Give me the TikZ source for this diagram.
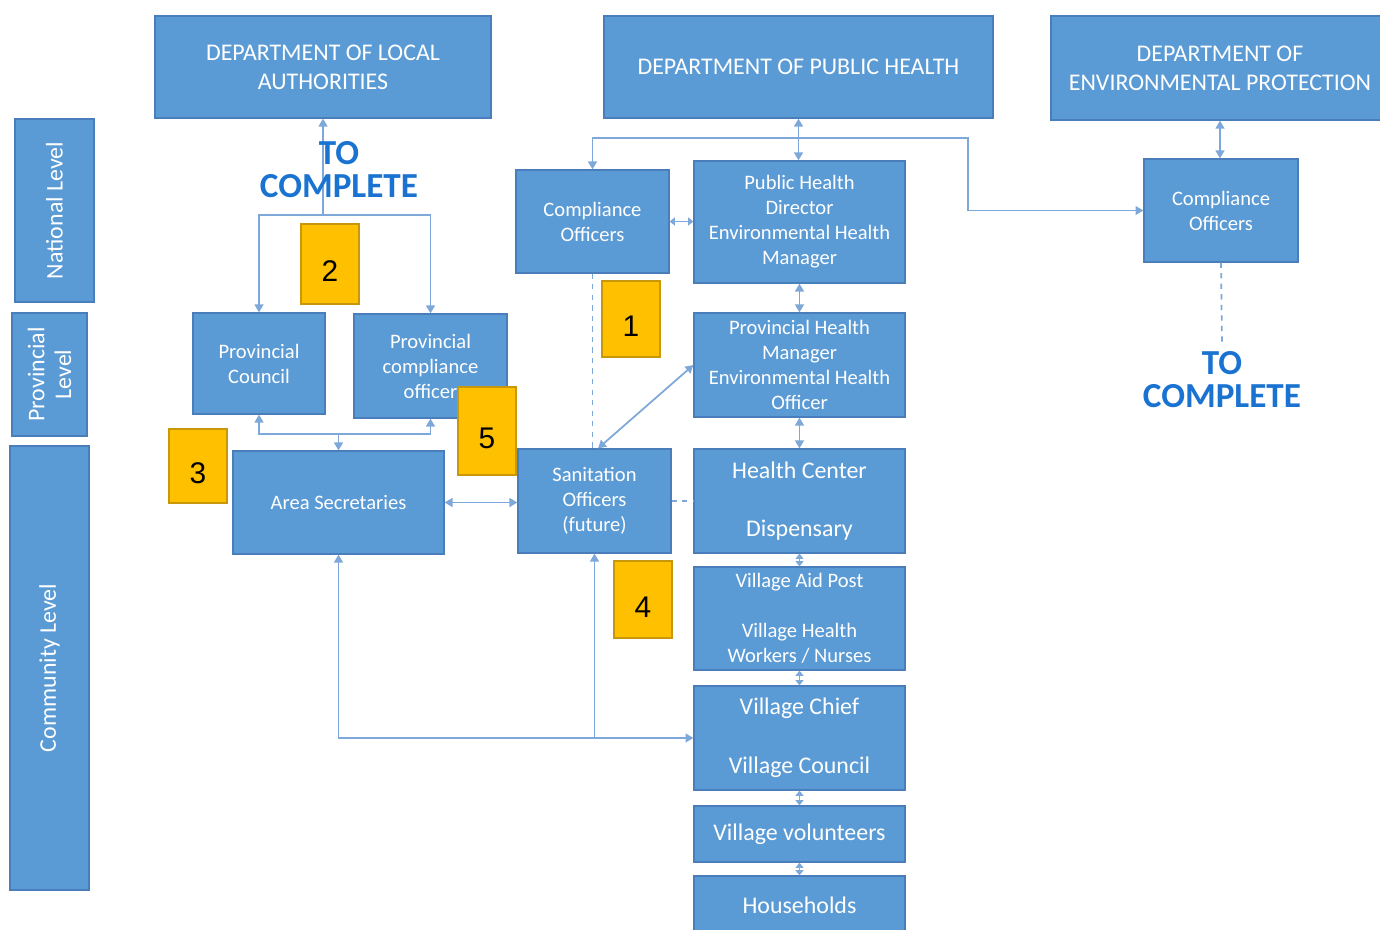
\documentclass[tikz,border=0pt]{standalone}
\usepackage{fontspec}
\setmainfont{Carlito}
\newfontfamily\numfont{Liberation Sans}
\usetikzlibrary{arrows.meta,positioning}

\definecolor{boxblue}{HTML}{5B9BD5}
\definecolor{boxedge}{HTML}{4A7EBB}
\definecolor{linkblue}{HTML}{7EA8DA}
\definecolor{tagyellow}{HTML}{FFC000}
\definecolor{tagedge}{HTML}{C9980A}
\definecolor{todoblue}{HTML}{1A73D0}

\tikzset{
  box/.style={draw=boxedge, fill=boxblue, text=white, align=center, inner sep=1pt, line width=0.7pt, font=\fontsize{11.7}{14.2}\selectfont},
  big/.style={font=\fontsize{13.6}{16.7}\selectfont},
  head/.style={font=\fontsize{13.6}{16.4}\selectfont},
  side/.style={box, rotate=90, font=\fontsize{13.6}{15.3}\selectfont},
  tag/.style={draw=tagedge, fill=tagyellow, line width=0.7pt, minimum width=1.16cm, text height=20pt, text depth=0pt, font=\numfont\fontsize{17}{17}\selectfont},
  todo/.style={text=todoblue, align=center, font=\bfseries\fontsize{20}{18.7}\selectfont},
  link/.style={draw=linkblue, line width=1pt},
  tight/.style={>={Triangle[length=3pt,width=4.5pt]}},
}

\begin{document}
\begin{tikzpicture}[x=0.02cm, y=-0.02cm, >={Triangle[length=4.5pt,width=5pt]}]
\useasboundingbox (0,0) rectangle (1380,930);

% level bars on the left
\node[side, minimum width=3.66cm, minimum height=1.58cm] (natl) at (54.5,210.5) {National Level};
\node[side, minimum width=2.46cm, minimum height=1.5cm] (prov) at (49.5,374.5) {Provincial\\Level};
\node[side, minimum width=8.88cm, minimum height=1.58cm] (comm) at (49.5,668) {Community Level};

% departments
\node[box, head, minimum width=6.72cm, minimum height=2.04cm] (dla) at (323,67) {DEPARTMENT OF LOCAL\\AUTHORITIES};
\node[box, head, minimum width=7.78cm, minimum height=2.04cm] (dph) at (798.5,67) {DEPARTMENT OF PUBLIC HEALTH};
\node[box, head, minimum width=6.76cm, minimum height=2.08cm] (dep) at (1220,68) {DEPARTMENT OF\\ENVIRONMENTAL PROTECTION};

% national and provincial staff
\node[box, minimum width=3.06cm, minimum height=2.06cm] (coL) at (592.5,221.5) {Compliance\\Officers};
\node[box, minimum width=4.22cm, minimum height=2.44cm] (phd) at (799.5,222) {Public Health\\Director\\Environmental Health\\Manager};
\node[box, minimum width=3.08cm, minimum height=2.06cm] (coR) at (1221,210.5) {Compliance\\Officers};
\node[box, minimum width=2.64cm, minimum height=2.02cm] (pcn) at (259,363.5) {Provincial\\Council};
\node[box, minimum width=3.06cm, minimum height=2.08cm] (pco) at (430.5,366) {Provincial\\compliance\\officer};
\node[box, minimum width=4.22cm, minimum height=2.08cm] (phm) at (799.5,365) {Provincial Health\\Manager\\Environmental Health\\Officer};

% community level
\node[box, minimum width=4.22cm, minimum height=2.06cm] (as) at (338.5,502.5) {Area Secretaries};
\node[box, minimum width=3.06cm, minimum height=2.08cm] (san) at (594.5,501) {Sanitation\\Officers\\(future)};
\node[box, big, minimum width=4.22cm, minimum height=2.08cm] (hc) at (799.5,501) {Health Center\\[16.7pt]Dispensary};
\node[box, minimum width=4.22cm, minimum height=2.06cm] (vap) at (799.5,618.5) {Village Aid Post\\[14.2pt]Village Health\\Workers / Nurses};
\node[box, big, minimum width=4.22cm, minimum height=2.08cm] (vch) at (799.5,738) {Village Chief\\[16.7pt]Village Council};
\node[box, big, minimum width=4.22cm, minimum height=1.12cm] (vvol) at (799.5,834) {Village volunteers};
\node[box, big, minimum width=4.22cm, minimum height=1.18cm] (hh) at (799.5,905.5) {Households};

% local authorities branch
\coordinate (dlaj) at (323,215);
\draw[link,->] (dlaj) -- (dla.south);
\draw[link,->] (dlaj) -| (pcn.north);
\draw[link,->] (dlaj) -| (pco.north);
\coordinate (asj) at (338.5,434);
\draw[link,->] (asj) -| (pcn.south);
\draw[link,->] (asj) -| (pco.south);
\draw[link,->] (asj) -- (as.north);
\draw[link,<->] (as.east) -- (as.east -| san.west);

% public health branch
\coordinate (dphj) at (798.5,138);
\coordinate (dphr) at (968,138);
\draw[link,<->] (dph.south) -- (dph.south |- phd.north);
\draw[link,->] (dphj) -| (coL.north);
\draw[link,->] (dphj) -- (dphr) |- (coR.west);
\draw[link,tight,<->] (coL.east) -- (coL.east -| phd.west);
\draw[link,<->] (phd.south) -- (phm.north);
\draw[link,<->] (phm.south) -- (hc.north);
\draw[link,dashed] (coL.south) -- (coL.south |- san.north);
\draw[link,<->] ([xshift=2pt]san.north) -- (phm.west);
\draw[link,dashed] (san.east) -- (san.east -| hc.west);

% village chain
\draw[link,tight,<->] (hc.south) -- (vap.north);
\draw[link,tight,<->] (vap.south) -- (vch.north);
\draw[link,tight,<->] (vch.south) -- (vvol.north);
\draw[link,tight,<->] (vvol.south) -- (hh.north);
\draw[link,<->] (as.south) |- (vch.west);
\draw[link,->] (san.south |- vch.west) -- (san.south);

% environmental protection branch
\node[todo] (todoR) at (1222,380) {TO\\COMPLETE};
\draw[link,<->] (dep.south) -- (dep.south |- coR.north);
\draw[link,dashed] (coR.south) -- (todoR.north);

\node[todo] (todoL) at (339,170) {TO\\COMPLETE};

% numbered markers
\node[tag, minimum height=1.6cm] (t2) at (330,264) {2};
\node[tag, minimum height=1.52cm] (t1) at (631,319) {1};
\node[tag, minimum height=1.76cm] (t5) at (487,431) {5};
\node[tag, minimum height=1.48cm] (t3) at (198,466) {3};
\node[tag, minimum height=1.54cm] (t4) at (643,599.5) {4};
\end{tikzpicture}
\end{document}
